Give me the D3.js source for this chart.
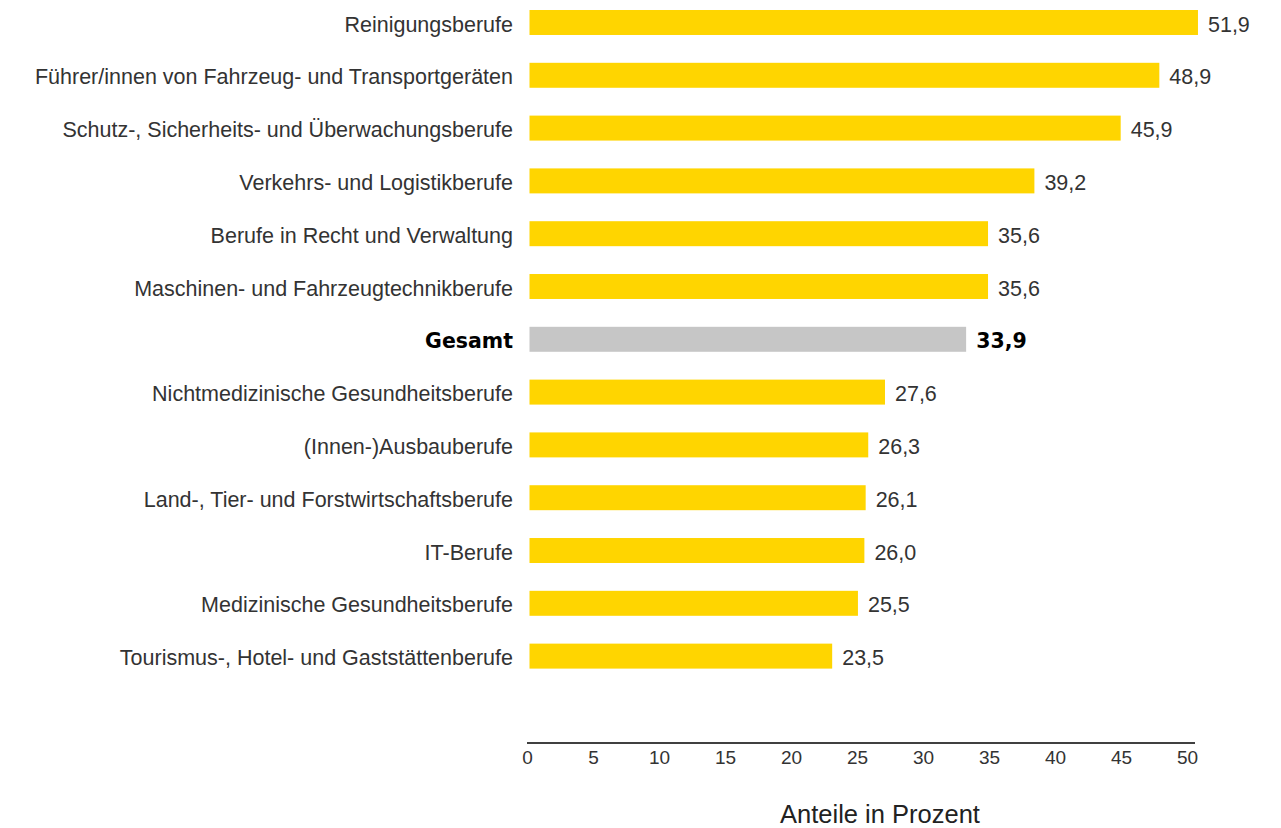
<!DOCTYPE html>
<html>
<head>
<meta charset="utf-8">
<script src="https://cdn.jsdelivr.net/npm/d3@7"></script>
<style>
body { margin: 0; background: #fff; }
text { font-family: "Liberation Sans", Arial, sans-serif; }
</style>
</head>
<body>
<script>
// Berufe und Anteile (Prozent)
var categories = [
	"Reinigungsberufe",
	"Führer/innen von Fahrzeug- und Transportgeräten",
	"Schutz-, Sicherheits- und Überwachungsberufe",
	"Verkehrs- und Logistikberufe",
	"Berufe in Recht und Verwaltung",
	"Maschinen- und Fahrzeugtechnikberufe",
	"Gesamt",
	"Nichtmedizinische Gesundheitsberufe",
	"(Innen-)Ausbauberufe",
	"Land-, Tier- und Forstwirtschaftsberufe",
	"IT-Berufe",
	"Medizinische Gesundheitsberufe",
	"Tourismus-, Hotel- und Gaststättenberufe"
];
var values = [51.9, 48.9, 45.9, 39.2, 35.6, 35.6, 33.9, 27.6, 26.3, 26.1, 26.0, 25.5, 23.5];
var ticks = [0, 5, 10, 15, 20, 25, 30, 35, 40, 45, 50];
var axisTitle = "Anteile in Prozent";
var totalLabel = "Gesamt";

var width = 1281, height = 828;

var svg = d3.select("body").append("svg")
	.attr("width", width)
	.attr("height", height);

var data = categories.map(function(c, i) { return {name: c, value: values[i]}; });

var y = d3.scaleBand()
	.domain(categories)
	.range([10, 668.6])
	.paddingInner(0.527)
	.paddingOuter(0);

// bars are drawn a bit shorter than the axis in the original
var xBar = d3.scaleLinear().domain([0, 50]).range([529.5, 1173.5]);
var xAxis = d3.scaleLinear().domain([0, 50]).range([527, 1187]);

var fmt = function(v) { return d3.format(".1f")(v).replace(".", ","); };

svg.append("g").selectAll("rect")
	.data(data)
	.enter().append("rect")
	.attr("x", xBar(0))
	.attr("y", function(d) { return y(d.name); })
	.attr("width", function(d) { return xBar(d.value) - xBar(0); })
	.attr("height", y.bandwidth())
	.attr("fill", function(d) { return d.name == totalLabel ? "#c6c6c6" : "#ffd500"; });

function styleLabel(sel) {
	sel.style("font-size", function(d) { return d.name == totalLabel ? "20.5px" : "21.5px"; })
		.style("font-family", function(d) { return d.name == totalLabel ? "'DejaVu Sans', sans-serif" : null; })
		.style("font-weight", function(d) { return d.name == totalLabel ? "bold" : "normal"; })
		.attr("fill", function(d) { return d.name == totalLabel ? "#000" : "#333"; });
}

// category labels
svg.append("g").selectAll("text")
	.data(data)
	.enter().append("text")
	.attr("x", 513)
	.attr("y", function(d) { return y(d.name) + y.bandwidth() / 2; })
	.attr("dy", "0.42em")
	.attr("text-anchor", "end")
	.call(styleLabel)
	.text(function(d) { return d.name; });

// value labels
svg.append("g").selectAll("text")
	.data(data)
	.enter().append("text")
	.attr("x", function(d) { return xBar(d.value) + 10; })
	.attr("y", function(d) { return y(d.name) + y.bandwidth() / 2; })
	.attr("dy", "0.42em")
	.call(styleLabel)
	.text(function(d) { return fmt(d.value); });

// x axis
var ax = svg.append("g")
	.attr("transform", "translate(0,743)")
	.call(d3.axisBottom(xAxis).tickValues(ticks).tickSize(0).tickPadding(8));
ax.select(".domain").remove();
ax.append("line")
	.attr("x1", 527).attr("x2", 1195)
	.attr("stroke", "#000").attr("stroke-width", 1.5);
ax.selectAll(".tick text")
	.style("font-size", "19px")
	.style("font-family", "Liberation Sans, Arial, sans-serif")
	.attr("fill", "#333");

svg.append("text")
	.attr("x", 880)
	.attr("y", 823)
	.attr("text-anchor", "middle")
	.style("font-size", "25.5px")
	.attr("fill", "#222")
	.text(axisTitle);
</script>
</body>
</html>
